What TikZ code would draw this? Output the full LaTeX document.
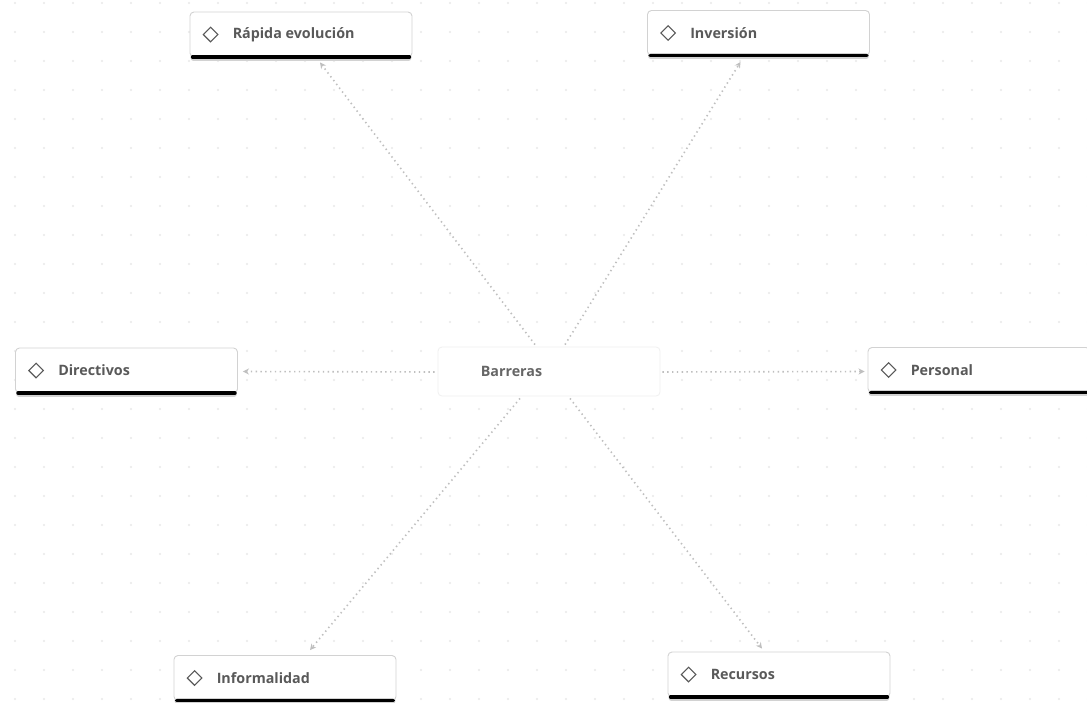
\documentclass[tikz,border=0pt]{standalone}
\usepackage{fontspec}
\setmainfont{Open Sans}
\usetikzlibrary{calc,arrows.meta,shapes.geometric}
\tikzset{
  card/.style={draw=gray!35, fill=white, rounded corners=4pt, minimum width=222pt, minimum height=45pt, line width=0.9pt, inner sep=0pt},
  centercard/.style={draw=gray!12, fill=white, rounded corners=4pt, minimum width=222pt, minimum height=49pt, line width=0.8pt, inner sep=0pt},
  cardlabel/.style={anchor=west, inner sep=0pt, text=gray!70!black, font=\fontsize{14.3}{16}\selectfont\bfseries},
  icon/.style={draw=gray!70!black, line width=1.1pt, shape=diamond, minimum size=15pt, inner sep=0pt},
  link/.style={draw=gray!50, line width=1.6pt, dash pattern=on 1.4pt off 3.4pt, -{Stealth[length=6pt,width=6pt]}},
  bar/.style={line width=3.5pt, black, line cap=round},
  barshadow/.style={line width=6pt, gray!35, line cap=round}
}
\newcommand{\mkcard}[4]{%
  \node[card] (#1) at (#2,#3) {};
  \draw[barshadow] ($(#1.south west)+(4,0.5)$) -- ($(#1.south east)+(-4,0.5)$);
  \draw[bar] ($(#1.south west)+(3,-0.5)$) -- ($(#1.south east)+(-3,-0.5)$);
  \node[icon] (#1-icon) at ($(#1.west)+(21,0)$) {};
  \node[cardlabel] (#1-text) at ($(#1.west)+(43,0)$) {#4};
}
\begin{document}
\begin{tikzpicture}[x=1pt,y=-1pt]
  \useasboundingbox (0,0) rectangle (1087,702);
  \fill[white] (0,0) rectangle (1087,702);
  % dot grid
  \foreach \i in {0,...,37} {
    \foreach \j in {0,...,24} {
      \fill[gray!18] (15+29*\i, 3+29*\j) circle (1.1pt);
    }
  }
  % central node
  \node[centercard] (barreras) at (549,371.5) {};
  \node[cardlabel, text=gray!80!black] (barreras-text) at ($(barreras.west)+(43,0)$) {Barreras};
  % outer cards
  \mkcard{rapida}{301}{34.5}{Rápida evolución}
  \mkcard{inversion}{758.5}{33}{Inversión}
  \mkcard{directivos}{126.5}{370.5}{Directivos}
  \mkcard{personal}{979}{370}{Personal}
  \mkcard{informalidad}{285}{678}{Informalidad}
  \mkcard{recursos}{779}{674.5}{Recursos}
  % connectors
  \draw[link] ($(barreras.north)+(-14,-2)$) -- ($(rapida.south)+(19,5)$);
  \draw[link] ($(barreras.north)+(16,-2)$) -- ($(inversion.south)+(-18,6)$);
  \draw[link] ($(barreras.west)+(-3,0.5)$) -- ($(directivos.east)+(5,1)$);
  \draw[link] ($(barreras.east)+(2,0.5)$) -- ($(personal.west)+(-3,1.5)$);
  \draw[link] ($(barreras.south)+(-29,2)$) -- ($(informalidad.north)+(25,-5)$);
  \draw[link] ($(barreras.south)+(21,2)$) -- ($(recursos.north)+(-17,-3)$);
\end{tikzpicture}
\end{document}
